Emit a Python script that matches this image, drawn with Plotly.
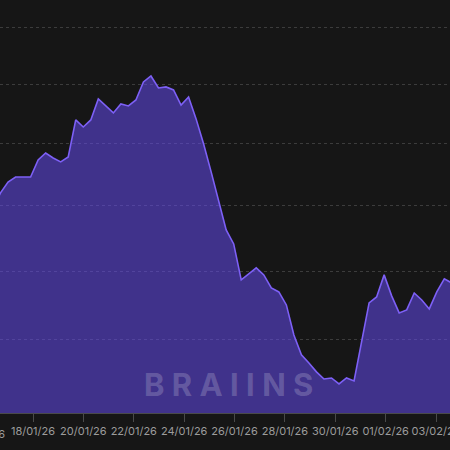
import pandas as pd
import numpy as np
import plotly.graph_objects as go

# Hashrate-like series (EH/s), sampled at regular intervals
start_time = "2026-01-16 09:53"
step = "430min"
values = [
    998.4, 1010.2, 1018.9, 1022.9, 1022.9, 1022.9, 1036.7, 1042.4, 1038.3, 1035.1,
    1039.1, 1069.8, 1063.9, 1069.8, 1087.6, 1081.6, 1075.7, 1083.3, 1081.6, 1086.7,
    1102.2, 1107.4, 1097.0, 1097.9, 1095.3, 1082.4, 1089.3, 1070.7, 1049.8, 1027.0,
    1003.1, 981.3, 970.5, 943.5, 947.9, 952.4, 947.2, 937.5, 934.6, 925.1,
    903.5, 889.5, 883.9, 877.7, 872.8, 873.5, 869.4, 873.5, 871.5, 897.9,
    926.6, 930.9, 947.2, 931.7, 919.3, 921.5, 933.8, 928.7, 922.2, 934.6,
    944.2, 941.2,
]
dates = pd.date_range(start_time, periods=len(values), freq=step)

grid_values = [850, 900, 950, 1000, 1050, 1100, 1150]
y_range = [849.8, 1175.5]
x_range = ["2026-01-16 16:33", "2026-02-03 13:18"]

BG = "#161616"
LINE = "#7d60f6"
FILL = "rgba(100,75,237,0.55)"

fig = go.Figure()
fig.add_trace(go.Scatter(
    x=dates, y=values, mode="lines",
    line=dict(color=LINE, width=1.6),
    fill="tozeroy", fillcolor=FILL,
    hoverinfo="skip",
))

fig.update_layout(
    width=450, height=450,
    margin=dict(l=0, r=0, t=0, b=37, autoexpand=False),
    paper_bgcolor=BG, plot_bgcolor=BG,
    showlegend=False,
    font=dict(family="Inter, Roboto, sans-serif", color="#9c9c9c", size=11),
    xaxis=dict(
        type="date", range=x_range, automargin=False,
        tick0="2026-01-16", dtick=2 * 86400000, tickformat="%d/%m/%y",
        tickangle=0, ticklabeloverflow="allow",
        showgrid=False, zeroline=False,
        showline=True, linecolor="#4a4a4a", linewidth=1,
        ticks="outside", ticklen=8, tickcolor="#4a4a4a", tickwidth=1,
        tickfont=dict(size=11, color="#9c9c9c"),
    ),
    yaxis=dict(
        type="log", range=[np.log10(y_range[0]), np.log10(y_range[1])],
        tickvals=grid_values, showticklabels=False, automargin=False,
        showgrid=True, gridcolor="#3c3c3c", griddash="3px,3px", gridwidth=1,
        zeroline=False, showline=False, ticks="",
    ),
    annotations=[
        dict(text="B R A I I N S", xref="paper", yref="paper", x=0.507, y=0.068,
             xanchor="center", yanchor="middle", showarrow=False,
             font=dict(family="Inter, sans-serif", size=31, color="rgba(255,255,255,0.2)", weight=700)),
        dict(text="16/01/26", xref="paper", yref="paper", x=-17 / 450, y=0,
             xanchor="center", yanchor="top", yshift=-12, showarrow=False,
             font=dict(size=11, color="#9c9c9c")),
    ],
)

fig.write_html("out.html", config={"displayModeBar": False},
               post_script="document.body.style.margin='0';")
